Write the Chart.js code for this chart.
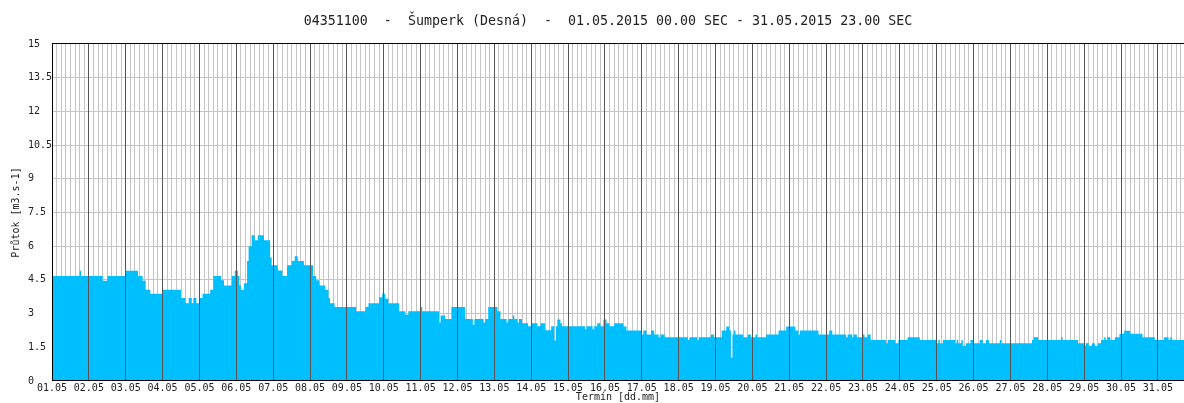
<!DOCTYPE html>
<html><head><meta charset="utf-8">
<script src="https://cdn.jsdelivr.net/npm/chart.js@4.4.1/dist/chart.umd.min.js"></script>
<style>html,body{margin:0;padding:0;background:#fff;}#wrap{width:1184px;height:403px;}</style>
</head><body><div id="wrap"><canvas id="c" width="1184" height="403"></canvas></div>
<script>
const titleText = '04351100  -  Šumperk (Desná)  -  01.05.2015 00.00 SEC - 31.05.2015 23.00 SEC';
const yAxisTitle = 'Průtok [m3.s-1]';
const xAxisTitle = 'Termín [dd.mm]';
const dayLabels = ['01.05','02.05','03.05','04.05','05.05','06.05','07.05','08.05','09.05','10.05',
  '11.05','12.05','13.05','14.05','15.05','16.05','17.05','18.05','19.05','20.05',
  '21.05','22.05','23.05','24.05','25.05','26.05','27.05','28.05','29.05','30.05','31.05'];
const yTicks = [0, 1.5, 3, 4.5, 6, 7.5, 9, 10.5, 12, 13.5, 15];
// hour (from 01.05 00:00) at which each flow level starts
const hours = [0,18,19,33,36,48,56,59,61,64,72,84,87,89,91,92,94,96,98,103,105,110,112,117,119,121,122,123,125,127,128,130,132,134,138,142,143,147,150,153,156,158,160,164,170,172,174,178,180,181,184,
  198,204,206,213,215,217,219,226,230,232,240,241,252,253,256,260,269,274,275,281,282,284,290,292,296,297,300,301,303,304,306,310,312,316,318,321,325,327,328,329,331,332,347,348,352,353,355,357,359,361,363,366,
  372,374,384,385,387,390,392,395,396,399,414,415,420,421,429,431,436,439,441,442,443,444,445,450,453,455,458,459,465,473,478,484,486,487,499,506,508,517,518,521,522,524,528,529,531,533,543,544,549,551,
  557,565,576,577,578,580,588,589,590,592,593,595,598,600,604,606,608,610,617,618,638,639,642,657,658,668,672,673,675,677,679,681,683,685,686,687,689,692,695,698,702,710,718,724,727,728,729,744];
const flows = [4.67,4.91,4.67,4.46,4.67,4.91,4.67,4.46,4.06,3.88,4.06,3.69,3.46,3.69,3.46,3.69,3.46,3.69,3.88,4.06,4.67,4.48,4.25,4.67,4.91,4.67,4.25,4.06,4.35,5.34,6.0,6.49,6.26,6.49,6.26,5.5,5.15,4.92,4.67,5.15,5.34,5.55,5.34,5.15,4.67,4.48,4.25,4.06,3.69,3.46,3.29,
  3.1,3.29,3.46,3.73,3.88,3.66,3.46,3.1,2.95,3.1,3.29,3.1,2.6,2.91,2.76,3.29,2.76,2.5,2.76,2.6,2.76,3.29,3.1,2.76,2.6,2.76,2.91,2.76,2.6,2.76,2.57,2.44,2.57,2.44,2.57,2.26,2.44,1.8,2.44,2.74,2.57,2.44,2.3,2.44,2.3,2.44,2.57,2.44,2.74,2.57,2.44,2.57,
  2.42,2.25,2.07,2.25,2.07,2.25,2.07,1.95,2.07,1.95,1.83,1.95,1.83,1.95,2.07,1.95,2.25,2.42,2.25,1.05,2.07,2.25,2.07,1.95,2.07,1.95,2.07,1.95,2.07,2.25,2.42,2.25,2.07,2.25,2.07,2.25,2.07,1.95,2.07,1.95,2.07,1.95,2.07,1.95,2.07,1.83,1.68,1.83,1.68,1.83,
  1.95,1.83,1.68,1.83,1.68,1.83,1.68,1.83,1.68,1.83,1.57,1.68,1.83,1.68,1.83,1.68,1.83,1.68,1.83,1.68,1.83,1.95,1.83,1.95,1.83,1.68,1.57,1.68,1.57,1.68,1.57,1.68,1.83,1.95,1.83,1.95,1.83,1.95,2.1,2.24,2.1,1.95,1.83,1.95,1.83,1.95,1.83,1.83];

const MONO = '"DejaVu Sans Mono", "Liberation Mono", monospace';
const TXT = '#222';
const points = hours.map((h, i) => ({x: h, y: flows[i]}));
const dayTickValues = dayLabels.map((_, i) => i * 24);
const gridTickValues = [];
for (let h = 0; h <= 744; h += 3) gridTickValues.push(h);
const xMax = 737;

new Chart(document.getElementById('c'), {
  type: 'line',
  data: {datasets: [{
    data: points, stepped: true, fill: 'origin',
    backgroundColor: '#00BFFF', borderColor: '#00BFFF', borderWidth: 0, pointRadius: 0,
    xAxisID: 'x', yAxisID: 'y'
  }]},
  options: {
    responsive: false, animation: false,
    layout: {padding: 0},
    plugins: {
      legend: {display: false}, tooltip: {enabled: false},
      title: {display: true, text: '    ' + titleText, color: TXT,
        font: {family: MONO, size: 13.3, weight: 'normal', lineHeight: 1.2},
        padding: {top: 14, bottom: 14}}
    },
    scales: {
      x: {
        type: 'linear', min: 0, max: xMax, position: 'bottom',
        afterBuildTicks: s => { s.ticks = dayTickValues.map(v => ({value: v})); },
        afterFit: s => { s.height = 22; },
        grid: {color: '#555', lineWidth: 1, drawTicks: false, z: 1},
        border: {display: true, color: '#000', width: 1, z: 1},
        ticks: {autoSkip: false, maxRotation: 0, padding: 1, color: TXT,
          font: {family: MONO, size: 10},
          callback: v => dayLabels[Math.round(v / 24)]},
        title: {display: true, text: xAxisTitle, color: TXT,
          font: {family: MONO, size: 10}, padding: {top: 0, bottom: 0}}
      },
      xg: {
        type: 'linear', min: 0, max: xMax, position: 'bottom',
        afterBuildTicks: s => { s.ticks = gridTickValues.map(v => ({value: v})); },
        afterFit: s => { s.height = 0; },
        grid: {color: '#c4c4c4', lineWidth: 1, drawTicks: false},
        border: {display: false},
        ticks: {display: false}
      },
      y: {
        min: 0, max: 15, position: 'left',
        afterBuildTicks: s => { s.ticks = yTicks.map(v => ({value: v})); },
        afterFit: s => { s.width = 52; },
        grid: {color: c => (c.tick && c.tick.value === 15) ? '#000' : '#c4c4c4', lineWidth: 1, drawTicks: false},
        border: {display: true, color: '#000', width: 1, z: 1},
        ticks: {padding: 0, color: TXT, font: {family: MONO, size: 10},
          callback: v => String(Math.round(v * 10) / 10).padEnd(4, ' ')},
        title: {display: true, text: yAxisTitle, color: TXT,
          font: {family: MONO, size: 10}, padding: {top: 10, bottom: 0}}
      }
    }
  }
});
</script>
</body></html>
